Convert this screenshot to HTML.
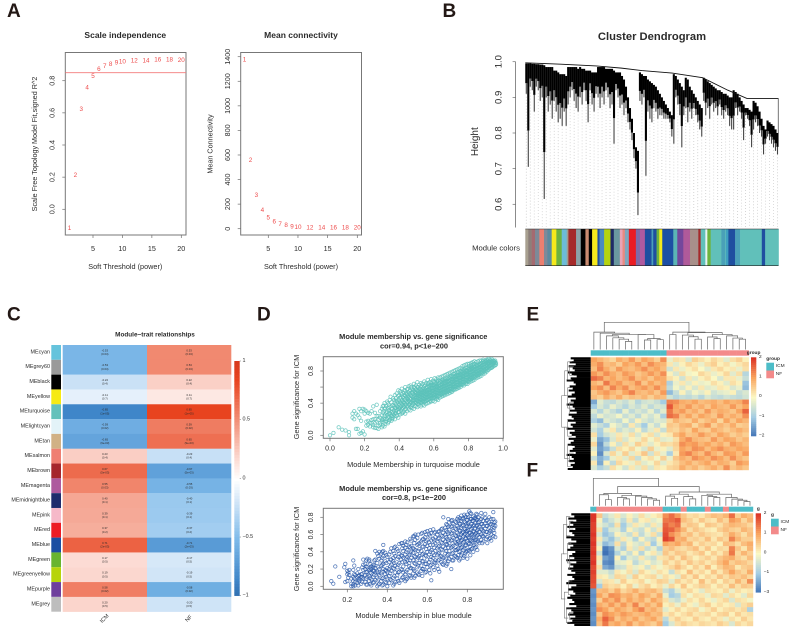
<!DOCTYPE html>
<html lang="en">
<head>
<meta charset="utf-8">
<title>WGCNA multi-panel figure</title>
<style>
html,body{margin:0;padding:0;background:#fff;width:790px;height:631px;overflow:hidden}
svg{display:block;font-family:"Liberation Sans",Arial,sans-serif;filter:blur(0.35px)}
text{fill:#2b2b2b}
.letter{font-size:19px;font-weight:bold;fill:#231815}
</style>
</head>
<body>
<svg id="fig" xmlns="http://www.w3.org/2000/svg" width="790" height="631" viewBox="0 0 790 631">
<rect width="790" height="631" fill="#fff"/>
<text class="letter" x="7" y="17">A</text>
<text class="letter" x="442.5" y="17">B</text>
<text class="letter" x="7" y="320.7">C</text>
<text class="letter" x="257" y="320.7">D</text>
<text class="letter" x="526.5" y="320.7">E</text>
<text class="letter" x="526.5" y="476.7">F</text>
<g id="panelA"></g>
<g id="panelB"></g>
<g id="panelC"></g>
<g id="panelD"></g>
<g id="panelE"></g>
<g id="panelF"></g>
</svg>

<script>
/* Shared drawing helpers */
window.figKit=(function(){
  var svgNs='http://www.w3.org/2000/svg';
  var axisGrey='#6e6e6e';
  function mk(tag,attrs,parent){
    var e=document.createElementNS(svgNs,tag);
    for(var k in attrs)e.setAttribute(k,attrs[k]);
    if(parent)parent.appendChild(e);
    return e;
  }
  function txt(parent,x,y,s,size,opt){
    opt=opt||{};
    var a={x:x,y:y,'font-size':size,'text-anchor':opt.anchor||'middle','dominant-baseline':'central'};
    if(opt.weight)a['font-weight']=opt.weight;
    if(opt.rot!==undefined)a.transform='rotate('+opt.rot+' '+x+' '+y+')';
    var t=mk('text',a,parent);
    if(opt.fill)t.style.fill=opt.fill;
    t.textContent=s;
    return t;
  }
  function linear(d0,d1,r0,r1){return function(v){return r0+(v-d0)*(r1-r0)/(d1-d0);};}
  function hexRgb(c){return [parseInt(c.slice(1,3),16),parseInt(c.slice(3,5),16),parseInt(c.slice(5,7),16)];}
  function ramp(stops){
    return function(v){
      if(v<=stops[0][0])return stops[0][1];
      for(var i=1;i<stops.length;i++){
        if(v<=stops[i][0]){
          var t=(v-stops[i-1][0])/(stops[i][0]-stops[i-1][0]);
          var a=hexRgb(stops[i-1][1]),b=hexRgb(stops[i][1]);
          return 'rgb('+a.map(function(c,j){return Math.round(c+(b[j]-c)*t);}).join(',')+')';
        }
      }
      return stops[stops.length-1][1];
    };
  }
  function plotFrame(g,x0,y0,x1,y1){
    var r=mk('rect',{x:x0,y:y0,width:x1-x0,height:y1-y0,fill:'none',stroke:'#777','stroke-width':1},g);
    
    
  }
  function xAxis(g,scale,ticks,yBase,labelY,size,dec){
    ticks.forEach(function(v){
      var px=scale(v);
      var l=mk('line',{x1:px,x2:px,y1:yBase,y2:yBase+3,stroke:axisGrey,'stroke-width':.7},g);
      
      
      var t=txt(g,px,labelY,dec?v.toFixed(1):String(v),size);
      
      
    });
  }
  function yAxis(g,scale,ticks,xBase,labelX,size,dec){
    ticks.forEach(function(v){
      var py=scale(v);
      var l=mk('line',{x1:xBase-3,x2:xBase,y1:py,y2:py,stroke:axisGrey,'stroke-width':.7},g);
      
      
      var t=txt(g,labelX,py,dec?v.toFixed(1):String(v),size,{rot:-90});
      
      
    });
  }
  var exprColor=ramp([[-2,'#3f72b5'],[-1,'#a5cde3'],[0,'#fbf8c4'],[1,'#f9a560'],[2,'#dc3527']]);
  var groupColor={ICM:'#4dbdc8',NF:'#f38a8a'};
  function drawColTree(g,node,xs,ys){
    if(typeof node==='number')return {x:xs(node+.5),h:0};
    var a=drawColTree(g,node[0],xs,ys),b=drawColTree(g,node[1],xs,ys);
    var h=node[2];
    var p=mk('polyline',{points:a.x+','+ys(a.h)+' '+a.x+','+ys(h)+' '+b.x+','+ys(h)+' '+b.x+','+ys(b.h),fill:'none',stroke:'#666','stroke-width':.7},g);
    
    
    return {x:(a.x+b.x)/2,h:h};
  }
  function expressionHeatmap(g,opt){
    var nr=opt.data.length,nc=opt.data[0].length;
    var xs=linear(0,nc,opt.x0,opt.x1),ys=linear(0,nr,opt.y0,opt.y1);
    opt.data.forEach(function(row,i){
      row.forEach(function(v,j){
        var r=mk('rect',{x:xs(j),y:ys(i),width:xs(j+1)-xs(j)+.2,height:ys(i+1)-ys(i)+.2,fill:exprColor(v)},g);
        
        
      });
    });
    opt.samples.forEach(function(s,j){
      var r=mk('rect',{x:xs(j),y:opt.annY0,width:xs(j+1)-xs(j)+.2,height:opt.annY1-opt.annY0,fill:groupColor[s]},g);
      
      
    });
    var treeG=mk('g',{},g);
    
    
    drawColTree(treeG,opt.tree,xs,linear(0,1,opt.treeBase,opt.treeTop));
    var depthY=linear(0,opt.depth.length,opt.y0,opt.y1);
    var fan=mk('g',{},g);
    
    
    opt.depth.forEach(function(d,i){
      mk('line',{x1:opt.x0-d,x2:opt.x0,y1:depthY(i+.5),y2:depthY(i+.5),stroke:'#000','stroke-width':2.1},fan);
    });
    var rowTree=linear(0,1,opt.y0,opt.y1);
    var brk=mk('g',{},g);
    
    
    opt.brackets.forEach(function(b){
      var px=opt.x0-b[2];
      mk('polyline',{points:(px+4)+','+rowTree(b[0])+' '+px+','+rowTree(b[0])+' '+px+','+rowTree(b[1])+' '+(px+4)+','+rowTree(b[1]),fill:'none',stroke:'#777','stroke-width':.6},brk);
    });
    var legY=linear(2,-2,opt.barY0,opt.barY1);
    for(var i=0;i<40;i++){
      var v=2-i/10;
      var r=mk('rect',{x:opt.barX,y:legY(v),width:5.3,height:(opt.barY1-opt.barY0)/40+.3,fill:exprColor(v)},g);
      
      
    }
    opt.ticks.forEach(function(v,i){
      var yy=linear(0,opt.ticks.length-1,opt.barY0,opt.barY1)(i);
      var s=txt(g,opt.barX+8,yy,(v<0?'\u2212':'')+Math.abs(v),4.8,{anchor:'start'});
      
      
    });
    var t=txt(g,opt.barX+2.6,opt.barY0-4,opt.groupName,4.8,{weight:'bold'});
    
    
    t=txt(g,opt.swX,opt.swY-3.2,opt.groupName,4.8,{weight:'bold',anchor:'start'});
    
    
    ['ICM','NF'].forEach(function(s,i){
      var y0=opt.swY+i*7.8;
      var sw=mk('rect',{x:opt.swX,y:y0,width:7.7,height:7.8,fill:groupColor[s]},g);
      
      
      var l=txt(g,opt.swX+9.5,y0+3.9,s,4.8,{anchor:'start'});
      
      
    });
  }
  return {mk:mk,txt:txt,linear:linear,ramp:ramp,plotFrame:plotFrame,xAxis:xAxis,yAxis:yAxis,expressionHeatmap:expressionHeatmap,axisGrey:axisGrey};
})();
</script>

<script>
/* Panel A data */
var softPowers=[1,2,3,4,5,6,7,8,9,10,12,14,16,18,20];
var scaleFitValues=[-0.12,0.21,0.62,0.756,0.825,0.87,0.889,0.9,0.911,0.915,0.924,0.924,0.93,0.93,0.927];
var meanConnValues=[1372,556,272,150,87,55,36,25,15,10,6,5,5,5,5];
var scaleFitCutoff=[0.85];
var softXTicks=[5,10,15,20];
var scaleYTicks=[0,0.2,0.4,0.6,0.8];
var connYTicks=[0,200,400,600,800,1000,1200,1400];
(function(){
  var K=window.figKit,txt=K.txt,mk=K.mk;
  var g=document.getElementById('panelA');
  function drawPowerLabels(xs,ys,values){
    softPowers.forEach(function(p,i){
      var t=txt(g,xs(p),ys(values[i]),String(p),6.3,{fill:'#ee4a4a'});
      
      
    });
  }
  var xL=K.linear(5,20,93,181.3),yL=K.linear(0,.8,209.3,80.7);
  K.plotFrame(g,65.3,52.5,186,235);
  scaleFitCutoff.forEach(function(v){
    var l=mk('line',{x1:65.3,x2:186,y1:yL(v),y2:yL(v),stroke:'#f47b7b','stroke-width':.8},g);
    
    
  });
  K.xAxis(g,xL,softXTicks,235,248.5,7.2,false);
  K.yAxis(g,yL,scaleYTicks,65.3,52,7.2,true);
  drawPowerLabels(xL,yL,scaleFitValues);
  var t=txt(g,125.3,35,'Scale independence',8.5,{weight:'bold'});
  
  
  t=txt(g,125.3,266.5,'Soft Threshold (power)',7.3);
  
  
  t=txt(g,34.3,144,'Scale Free Topology Model Fit,signed R^2',7.2,{rot:-90});
  
  

  var xR=K.linear(5,20,268.3,357.3),yR=K.linear(0,1400,228.7,56.7);
  K.plotFrame(g,240.7,52.5,361.5,235);
  K.xAxis(g,xR,softXTicks,235,248.5,7.2,false);
  K.yAxis(g,yR,connYTicks,240.7,227.5,7.2,false);
  drawPowerLabels(xR,yR,meanConnValues);
  t=txt(g,301,35,'Mean connectivity',8.5,{weight:'bold'});
  
  
  t=txt(g,301,266.5,'Soft Threshold (power)',7.3);
  
  
  t=txt(g,210,144,'Mean Connectivity',7.2,{rot:-90});
  
  
})();
</script>

<script>
/* Panel B data */
var dendroTop=[.995,.995,.995,.994,.994,.993,.993,.992,.992,.99,.985,.985,.985,.985,.975,.975,.97,.965,.965,.965,.96,.985,.985,.985,.985,.985,.98,.985,.98,.98,.975,.975,.975,.97,.97,.97,.985,.985,.985,.985,.98,.98,.98,.98,.975,.97,.97,.97,.96,.95,.93,.9,.87,.84,.8,.76,.75,.97,.965,.96,.96,.95,.945,.94,.935,.93,.92,.91,.9,.89,.88,.87,.86,.85,.965,.96,.95,.94,.93,.92,.955,.95,.93,.92,.91,.9,.89,.88,.87,.955,.95,.945,.94,.935,.93,.925,.92,.92,.915,.91,.91,.905,.9,.9,.92,.915,.91,.9,.89,.88,.87,.87,.865,.86,.89,.885,.875,.86,.84,.82,.81,.835,.83,.825,.82,.81,.8];
var dendroBottom=[.91,.705,.93,.92,.86,.93,.92,.89,.9,.615,.9,.86,.88,.84,.89,.86,.83,.84,.82,.86,.82,.88,.9,.92,.89,.87,.86,.9,.88,.92,.89,.83,.92,.88,.86,.91,.9,.87,.9,.88,.92,.9,.87,.88,.77,.92,.9,.87,.88,.85,.87,.83,.81,.78,.73,.7,.57,.89,.88,.9,.68,.86,.84,.83,.87,.86,.84,.85,.85,.84,.84,.84,.83,.79,.77,.9,.88,.85,.76,.85,.87,.83,.86,.84,.87,.85,.83,.81,.79,.89,.85,.87,.84,.88,.86,.87,.85,.88,.85,.84,.86,.85,.82,.81,.81,.87,.85,.86,.84,.78,.85,.84,.82,.76,.81,.83,.82,.8,.79,.74,.77,.79,.78,.77,.76,.75,.74];
var dendroEnvelope=[[0,.997],[.14,.993],[.28,.988],[.38,.982],[.46,.975],[.58,.968],[.70,.955],[.8,.92],[.875,.897],[1,.897]];
var dendroYTicks=[.6,.7,.8,.9,1];
var moduleBandColors=['#a8a090','#8c7f7a','#a56a70','#7d8a98','#ec7f70','#7e8a99','#5b8aa0','#f6e91c','#6db33f','#6cbcd8','#a0a090','#a52a2a','#8ba3a8','#000000','#c98a70','#000000','#f6e91c','#1f4fa0','#4a8ac0','#b5d30f','#1e2a66','#6a98a0','#e8a5b8','#ea8a80','#7fa8c0','#ea1c24','#7f6aa8','#b05aa0','#1f4fa0','#4aa0b8','#1f4fa0','#6db33f','#f6e91c','#1d4fa3','#5bb5b5','#74479c','#b05a9a','#a8908a','#a52a2a','#61c0ba','#e8f5f5','#6db33f','#61c0ba','#4aa0b8','#61c0ba','#3f9fc0','#1f4fa0','#4aa0b8','#61c0ba','#1f4fa0','#61c0ba'];
var moduleBandWidths=[9,10,10,13,14,10,13,14,16,15,5,23,14,14,10,10,16,6,14,19,10,18,8,7,12,21,12,15,20,5,10,8,9,33,12,18,20,25,7,14,6,10,32,11,2,8,20,15,65,10,40];
(function(){
  var K=window.figKit,txt=K.txt,mk=K.mk;
  var g=document.getElementById('panelB');
  var x0=525.3,x1=778.5;
  var y=K.linear(.6,1,204.3,61.7);
  var xLeaf=K.linear(0,dendroTop.length-1,x0+1,x1-1);
  var dots=mk('g',{},g);
  
  
  dendroBottom.forEach(function(b,i){
    if(i%2)return;
    mk('line',{x1:xLeaf(i),x2:xLeaf(i),y1:y(b),y2:227,stroke:'#c4c4c4','stroke-width':.8,'stroke-dasharray':'.8 2.2'},dots);
  });
  var leaves=mk('g',{},g);
  
  
  dendroTop.forEach(function(top,i){
    var b=dendroBottom[i];
    var solid=b+(top-b)*.35;
    mk('line',{x1:xLeaf(i),x2:xLeaf(i),y1:y(b),y2:y(solid),stroke:'#444','stroke-width':1.1},leaves);
    mk('line',{x1:xLeaf(i),x2:xLeaf(i),y1:y(solid),y2:y(top),stroke:'#000','stroke-width':2.1},leaves);
  });
  var xFrac=K.linear(0,1,x0,x1);
  var env=dendroEnvelope.map(function(p){return xFrac(p[0])+','+y(p[1]);}).join(' ');
  var pl=mk('polyline',{points:env,fill:'none',stroke:'#111','stroke-width':.9},g);
  
  
  var lastLeg=mk('line',{x1:x1-.2,x2:x1-.2,y1:y(.897),y2:y(.8),stroke:'#666','stroke-width':.9},g);
  
  
  var ax=mk('line',{x1:515.6,x2:515.6,y1:61.7,y2:227.5,stroke:K.axisGrey,'stroke-width':.8},g);
  
  
  K.yAxis(g,y,dendroYTicks,515.6,499,9.5,true);
  var t=txt(g,652,37,'Cluster Dendrogram',11.2,{weight:'bold'});
  
  
  t=txt(g,475.7,141.7,'Height',10,{rot:-90});
  
  
  t=txt(g,496,248,'Module colors',7.7);
  
  
  var total=moduleBandWidths.reduce(function(a,b){return a+b;},0);
  var band=K.linear(0,total,x0,x1);
  var acc=0;
  moduleBandWidths.forEach(function(w,i){
    var r=mk('rect',{x:band(acc),y:229,width:band(acc+w)-band(acc)+.3,height:36.7,fill:moduleBandColors[i]},g);
    
    
    acc+=w;
  });
  [229,265.7].forEach(function(yy){
    var l=mk('line',{x1:x0,x2:x1,y1:yy,y2:yy,stroke:'#222','stroke-width':.6},g);
    
    
  });
})();
</script>

<script>
/* Panel C data */
var traitNames=['ICM','NF'];
var moduleNames=['MEcyan','MEgrey60','MEblack','MEyellow','MEturquoise','MElightcyan','MEtan','MEsalmon','MEbrown','MEmagenta','MEmidnightblue','MEpink','MEred','MEblue','MEgreen','MEgreenyellow','MEpurple','MEgrey'];
var moduleSwatches=['#65c3dc','#9a9a9a','#000000','#f6ea14','#64c1bb','#e3f3f8','#d1b185','#ef7f72','#a5262c','#ae5a9e','#1f2c6d','#f6b9c9','#ed1c24','#1c4ea2','#69b42f','#b7d40b','#6e3f9c','#bdbdbd'];
var corrIcm=[-.53,-.53,-.22,-.11,-.85,-.59,-.65,.23,.67,.55,.40,.39,.37,.71,.17,.19,.58,.20];
var corrNf=[.53,.53,.22,.11,.85,.59,.65,-.23,-.67,-.55,-.40,-.39,-.37,-.71,-.17,-.19,-.58,-.20];
var corrPvals=['0.04','0.04','0.4','0.7','1e-05','0.02','9e-03','0.4','5e-03','0.03','0.1','0.1','0.2','2e-03','0.5','0.5','0.02','0.5'];
var corrLegendTicks=[1,.5,0,-.5,-1];
(function(){
  var K=window.figKit,txt=K.txt,mk=K.mk;
  var corrColor=K.ramp([[-1,'#2f6fb0'],[-.85,'#3f86c9'],[-.5,'#7fbbea'],[-.2,'#cfe4f7'],[0,'#ffffff'],[.2,'#fbd5cc'],[.5,'#f29078'],[.85,'#e8431f'],[1,'#d83a1c']]);
  var g=document.getElementById('panelC');
  var rowY=K.linear(0,moduleNames.length,345,611.7);
  var colX=K.linear(0,2,62.7,231.3);
  moduleNames.forEach(function(name,i){
    var y0=rowY(i),y1=rowY(i+1),mid=(y0+y1)/2;
    var sw=mk('rect',{x:51.3,y:y0,width:9.7,height:y1-y0,fill:moduleSwatches[i]},g);
    
    
    var lab=txt(g,50,mid,name,5.4,{anchor:'end'});
    
    
    [corrIcm[i],corrNf[i]].forEach(function(v,j){
      var c=mk('rect',{x:colX(j),y:y0,width:colX(j+1)-colX(j),height:y1-y0+.2,fill:corrColor(v)},g);
      
      
      var cx=(colX(j)+colX(j+1))/2;
      var a=txt(g,cx,mid-2,v.toFixed(2),2.8);
      
      
      var b=txt(g,cx,mid+1.6,'('+corrPvals[i]+')',2.8);
      
      
    });
  });
  traitNames.forEach(function(n,j){
    var tl=txt(g,(colX(j)+colX(j+1))/2,619,n,5.5,{rot:-45});
    
    
  });
  var t=txt(g,155,335,'Module\u2212trait relationships',6.4,{weight:'bold'});
  
  
  var leg=K.linear(1,-1,361,595.7);
  for(var i=0;i<80;i++){
    var v=1-i/40;
    var r=mk('rect',{x:234.3,y:leg(v),width:5.4,height:3.2,fill:corrColor(v)},g);
    
    
  }
  corrLegendTicks.forEach(function(tv){
    var l=mk('line',{x1:239.7,x2:241,y1:leg(tv),y2:leg(tv),stroke:K.axisGrey,'stroke-width':.5},g);
    
    
    var s=txt(g,242.5,leg(tv),(tv<0?'\u2212':'')+Math.abs(tv),5.4,{anchor:'start'});
    
    
  });
})();
</script>

<script>
/* Panel D data: each row is a module-membership value followed by its gene-significance values */
var turquoisePoints=[[0,0],[.02,.03],[.05,.1],[.07,.07],[.09,.06],[.11,0,.04],[.13,.27,.22],[.14,.3,.2],[.15,.08,.27],[.16,.08,.25],[.17,.02,.22,.33],[.18,.03,.3,.18],[.19,.33,.05],[.2,.32,.01,.27],[.21,.3,.12,.17],[.22,.28,.18,.13],[.23,.27,.11,.16],[.24,.15,.3,.19],[.25,.1,.2,.13,.36],[.26,.15,.2,.09,.28],[.27,.38,.09,.17,.24],[.28,.08,.12,.24,.19],[.29,.15,.22,.3,.13],[.3,.1,.17,.25,.33,.2],[.31,.16,.21,.3,.37],[.32,.14,.2,.26,.34],[.33,.2,.25,.29,.42],[.34,.17,.23,.31,.38,.27],[.35,.26,.3,.21,.48],[.36,.24,.29,.33,.37,.2],[.37,.25,.31,.36,.44],[.38,.3,.34,.39,.27,.46],[.39,.32,.36,.41,.25],[.4,.29,.33,.38,.43,.5],[.41,.31,.36,.4,.46,.53],[.42,.34,.38,.42,.48,.28],[.43,.35,.4,.44,.5,.56],[.44,.33,.38,.43,.47,.52],[.45,.36,.41,.45,.5,.58],[.46,.38,.42,.46,.51,.55],[.47,.36,.41,.45,.49,.53,.6],[.48,.4,.44,.47,.52,.56],[.49,.37,.42,.46,.5,.54,.59],[.5,.41,.44,.47,.5,.53,.57],[.51,.39,.43,.46,.49,.52,.55,.6],[.52,.42,.45,.48,.51,.54,.58],[.53,.41,.44,.47,.5,.53,.56,.62],[.54,.43,.46,.49,.52,.55,.59],[.55,.42,.45,.48,.51,.54,.57,.63],[.56,.44,.47,.5,.53,.56,.6],[.57,.45,.48,.51,.54,.57,.61,.65],[.58,.43,.47,.5,.53,.56,.59,.63],[.59,.46,.49,.52,.55,.58,.62],[.6,.47,.5,.53,.56,.59,.62,.66],[.61,.48,.51,.54,.57,.6,.64],[.62,.46,.5,.53,.56,.59,.62,.67],[.63,.49,.52,.55,.58,.61,.65],[.64,.5,.53,.56,.59,.62,.66],[.65,.51,.54,.57,.6,.63,.66,.69],[.66,.52,.55,.58,.61,.64,.68],[.67,.53,.56,.59,.62,.65,.68],[.68,.54,.57,.6,.63,.66,.7],[.69,.55,.58,.61,.64,.67,.71],[.7,.55,.58,.61,.64,.67,.7,.73],[.71,.57,.6,.63,.66,.69,.73],[.72,.58,.61,.64,.67,.7,.74],[.73,.6,.63,.66,.69,.72,.75],[.74,.6,.63,.66,.69,.72,.75,.78],[.75,.62,.65,.68,.71,.74,.77],[.76,.63,.66,.69,.72,.75,.79],[.77,.64,.67,.7,.73,.76,.8],[.78,.66,.69,.72,.75,.78,.82],[.79,.66,.69,.72,.75,.78,.81],[.8,.67,.7,.73,.76,.79,.83],[.81,.69,.72,.75,.78,.81,.84],[.82,.7,.73,.76,.79,.82,.85],[.83,.71,.74,.77,.8,.83,.86],[.84,.73,.76,.79,.82,.85],[.85,.74,.77,.8,.83,.86,.88],[.86,.75,.78,.81,.84,.87],[.87,.76,.79,.82,.85,.88],[.88,.78,.81,.84,.87,.9],[.89,.79,.82,.85,.88,.91],[.9,.8,.83,.86,.89,.92],[.91,.81,.84,.87,.9,.93],[.92,.83,.86,.89,.92],[.93,.84,.87,.9,.93],[.94,.85,.88,.91,.93],[.95,.87,.9,.92],[.96,.88,.9]];
var turquoiseExtraPoints=[[.305,.12,.19,.28,.36],[.315,.11,.24,.33,.4],[.325,.17,.28,.36],[.335,.15,.22,.34,.4],[.345,.19,.28,.35,.44],[.355,.18,.24,.33,.41],[.365,.22,.27,.38,.46],[.375,.2,.28,.34,.41,.5],[.385,.24,.31,.37,.43,.52],[.395,.22,.29,.35,.44,.49,.56],[.405,.26,.34,.41,.47,.55],[.415,.27,.33,.39,.44,.51,.58],[.425,.29,.36,.41,.46,.53],[.435,.27,.32,.38,.45,.49,.55,.6],[.445,.3,.36,.41,.46,.51,.57],[.455,.32,.38,.43,.48,.53,.61],[.465,.31,.35,.4,.45,.5,.56,.62],[.475,.34,.38,.43,.48,.54,.58],[.485,.33,.39,.44,.49,.55,.6,.64],[.495,.36,.4,.44,.48,.52,.57,.62],[.505,.35,.39,.43,.47,.51,.55,.6,.66],[.515,.37,.41,.45,.49,.53,.58,.63],[.525,.36,.4,.44,.48,.52,.56,.6,.65],[.535,.38,.42,.46,.5,.54,.58,.64],[.545,.37,.41,.45,.49,.53,.57,.61,.67],[.555,.39,.43,.47,.51,.55,.59,.65],[.565,.4,.44,.48,.52,.56,.6,.64,.69],[.575,.41,.45,.49,.53,.57,.61,.66],[.585,.42,.46,.5,.54,.58,.62,.65,.7],[.595,.43,.47,.51,.55,.59,.63,.68],[.605,.42,.46,.5,.54,.58,.62,.66,.71],[.615,.45,.49,.53,.57,.61,.65,.7],[.625,.44,.48,.52,.56,.6,.64,.68,.72],[.635,.47,.51,.55,.59,.63,.67,.72],[.645,.48,.52,.56,.6,.64,.68,.73],[.655,.49,.53,.57,.61,.65,.69,.74],[.665,.5,.54,.58,.62,.66,.7,.75],[.675,.51,.55,.59,.63,.67,.71,.76],[.685,.52,.56,.6,.64,.68,.72,.77],[.695,.53,.57,.61,.65,.69,.73,.78],[.705,.54,.58,.62,.66,.7,.74,.79],[.715,.56,.6,.64,.68,.72,.76,.8],[.725,.57,.61,.65,.69,.73,.77,.81],[.735,.58,.62,.66,.7,.74,.78,.82],[.745,.59,.63,.67,.71,.75,.79,.83],[.755,.6,.64,.68,.72,.76,.8,.84],[.765,.62,.66,.7,.74,.78,.82,.86],[.775,.62,.66,.7,.74,.78,.82,.87],[.785,.64,.68,.72,.76,.8,.84,.88],[.795,.64,.68,.72,.76,.8,.84,.89],[.805,.66,.7,.74,.78,.82,.86,.89],[.815,.67,.71,.75,.79,.83,.87,.9],[.825,.68,.72,.76,.8,.84,.88,.91],[.835,.69,.73,.77,.81,.85,.89,.92],[.845,.71,.75,.79,.83,.87,.91],[.855,.72,.76,.8,.84,.88,.92],[.865,.73,.77,.81,.85,.89,.93],[.875,.74,.78,.82,.86,.9,.93],[.885,.76,.8,.84,.88,.92,.94],[.895,.77,.81,.85,.89,.93],[.905,.79,.83,.87,.91,.94],[.915,.81,.85,.89,.92,.95],[.925,.83,.87,.91,.94],[.935,.84,.88,.92,.95],[.945,.86,.9,.93],[.955,.87,.91,.93]];
var bluePoints=[[.12,.06],[.13,.03],[.14,.23],[.16,.11],[.19,.05,.26],[.2,.06,.14,.18],[.21,.13,.19],[.22,0,.03,.09],[.23,0,.02,.06,.11,.19,.3],[.24,.01,.05,.13],[.25,.04,.1,.15],[.26,.06,.13,.08],[.27,.14,.11,.03],[.28,.09,.19,.25,.31],[.29,.05,.13,.2,.26],[.3,.02,.11,.17,.22,.32],[.31,.06,.12,.19,.29,.31],[.32,.01,.08,.15,.2,.23],[.33,.04,.11,.18,.22,.25],[.34,.07,.16,.21,.31,.41],[.35,0,.1,.17,.27,.38],[.36,.03,.13,.2,.32,.4],[.37,.06,.15,.24,.3,.38],[.38,.02,.1,.2,.26,.35,.41,.48],[.39,.05,.14,.19,.29,.39],[.4,0,.09,.16,.21,.34],[.41,.04,.12,.2,.28,.37],[.42,.07,.18,.25,.31,.44],[.43,.01,.1,.21,.29,.33,.41],[.44,.05,.16,.24,.35,.46],[.45,.09,.13,.22,.32,.43],[.46,.04,.17,.27,.38,.49],[.47,.07,.2,.31,.36,.5],[.48,.11,.16,.23,.33,.41,.47],[.49,.06,.14,.28,.37,.45,.52],[.5,.09,.19,.3,.34,.42,.51],[.51,.13,.23,.27,.36,.46],[.52,.1,.21,.33,.4,.47,.53],[.53,.15,.2,.3,.39,.44,.58],[.54,.12,.26,.34,.42,.54,.6],[.55,.16,.22,.31,.37,.48,.56],[.56,.13,.27,.35,.43,.5],[.57,.18,.24,.33,.41,.52,.61],[.58,.2,.29,.38,.46,.55],[.59,.16,.26,.36,.49,.57,.63],[.6,.22,.31,.4,.47,.54,.64],[.61,.19,.28,.37,.44,.51,.6],[.62,.07,.25,.34,.42,.53,.62],[.63,.22,.33,.39,.48,.55,.66],[.64,.27,.3,.41,.5,.57,.63],[.65,.24,.36,.44,.52,.6],[.66,.17,.31,.39,.47,.56,.64],[.67,.28,.35,.43,.51,.59,.66],[.68,.25,.33,.46,.54,.62,.8],[.69,.3,.38,.44,.52,.6,.68],[.7,.26,.36,.48,.55,.63,.71],[.71,.32,.41,.5,.58,.66,.74],[.72,.2,.34,.45,.53,.61,.69,.76],[.73,.3,.39,.47,.56,.64,.72],[.74,.35,.42,.51,.59,.67,.75],[.75,.33,.43,.49,.55,.62,.7,.78],[.76,.3,.4,.5,.57,.65,.73],[.77,.36,.45,.53,.6,.68,.76,.82],[.78,.33,.42,.51,.58,.63,.71,.79],[.79,.38,.47,.55,.61,.66,.74,.81],[.8,.32,.41,.52,.59,.64,.7,.77,.83],[.81,.41,.49,.56,.62,.69,.75,.87],[.82,.43,.53,.6,.66,.72,.78,.84],[.83,.4,.5,.58,.64,.7,.76,.81],[.84,.45,.54,.61,.67,.73,.79],[.85,.42,.52,.59,.65,.71,.77,.83],[.86,.5,.57,.63,.69,.75],[.87,.54,.6,.66,.72,.78,.85],[.88,.52,.58,.64,.7,.76],[.89,.6,.67,.73,.79,.84],[.9,.5,.57,.63,.7,.77],[.91,.55,.62,.68,.74,.8],[.92,.53,.6,.66,.72,.78],[.93,.58,.65,.71,.78,.86],[.94,.57,.7,.75]];
var blueExtraPoints=[[.185,.22],[.205,.16,.1],[.235,.09,.14,.24],[.255,.01,.08,.12,.2],[.275,.05,.1,.14,.22],[.295,.02,.09,.16,.23,.3],[.315,.03,.1,.16,.21,.26],[.335,.05,.13,.18,.24,.3],[.355,.02,.08,.15,.22,.35],[.375,.01,.09,.17,.25,.33,.4],[.395,.04,.11,.18,.27,.36],[.415,.08,.15,.23,.31,.4],[.435,.03,.12,.2,.27,.38,.45],[.455,.06,.16,.25,.34,.41],[.475,.1,.19,.28,.35,.44,.5],[.495,.08,.17,.26,.32,.4,.48],[.515,.12,.21,.3,.38,.45,.55],[.535,.1,.18,.27,.35,.43,.5,.58],[.555,.14,.24,.33,.41,.49,.6],[.575,.12,.2,.29,.37,.46,.54,.62],[.595,.17,.26,.35,.43,.52,.6],[.615,.15,.24,.31,.4,.48,.58,.65],[.635,.19,.28,.36,.45,.53,.62],[.655,.2,.3,.38,.46,.55,.63],[.675,.26,.34,.42,.5,.58,.67],[.695,.24,.32,.41,.49,.57,.65,.72],[.705,.29,.37,.45,.53,.61,.69,.78],[.725,.3,.38,.46,.54,.62,.7,.77],[.745,.34,.42,.5,.58,.66,.74],[.755,.36,.44,.52,.6,.68,.76,.8],[.765,.32,.41,.48,.56,.64,.72,.79],[.775,.38,.46,.54,.62,.7,.78],[.785,.35,.44,.52,.6,.67,.75,.83],[.795,.4,.48,.56,.64,.72,.8],[.805,.42,.5,.57,.65,.73,.8],[.815,.36,.46,.54,.62,.7,.78,.85],[.825,.44,.52,.6,.68,.76],[.835,.48,.56,.63,.71,.79],[.845,.46,.54,.62,.7,.78,.84],[.855,.52,.6,.67,.74,.8],[.875,.5,.58,.65,.72,.8],[.895,.55,.63,.7,.76],[.915,.56,.64,.72],[.935,.62,.68,.74]];
var turquoiseXTicks=[0,.2,.4,.6,.8,1];
var turquoiseYTicks=[0,.4,.8];
var turquoiseYMinor=[.2,.6];
var blueXTicks=[.2,.4,.6,.8];
var blueYTicks=[0,.2,.4,.6,.8];
(function(){
  var K=window.figKit,txt=K.txt,mk=K.mk;
  var g=document.getElementById('panelD');
  function scatter(parent,rows,xs,ys,color,op,nameP){
    rows.forEach(function(row){
      for(var k=1;k<row.length;k++){
        var c=mk('circle',{cx:xs(row[0]),cy:ys(row[k]),r:1.7,fill:'none',stroke:color,'stroke-width':.75,'stroke-opacity':op},parent);
        
        
      }
    });
  }
  var x1=K.linear(0,1,330,503),y1=K.linear(0,.8,435.3,371);
  K.plotFrame(g,323.3,356.7,503.3,438.3);
  var g1=mk('g',{},g);
  
  
  scatter(g1,turquoisePoints,x1,y1,'#5cc2ba',.85,'turquoise');
  scatter(g1,turquoiseExtraPoints,x1,y1,'#5cc2ba',.85,'turquoise');
  K.xAxis(g,x1,turquoiseXTicks,438.3,449,7,true);
  K.yAxis(g,y1,turquoiseYTicks,323.3,311.7,7,true);
  turquoiseYMinor.forEach(function(v){
    var l=mk('line',{x1:320.3,x2:323.3,y1:y1(v),y2:y1(v),stroke:K.axisGrey,'stroke-width':.7},g);
    
    
  });
  var t=txt(g,413.3,336.7,'Module membership vs. gene significance',7.4,{weight:'bold'});
  
  
  t=txt(g,414,346,'cor=0.94, p<1e\u2212200',7.4,{weight:'bold'});
  
  
  t=txt(g,413.5,464.5,'Module Membership in turquoise module',7.35);
  
  
  t=txt(g,296.7,397,'Gene significance for ICM',7.35,{rot:-90});
  
  

  var x2=K.linear(.2,.8,347.3,467.3),y2=K.linear(0,.8,586.3,517.3);
  K.plotFrame(g,323.3,508.3,503.3,589.3);
  var g2=mk('g',{},g);
  
  
  scatter(g2,bluePoints,x2,y2,'#2556a8',.8,'blue');
  scatter(g2,blueExtraPoints,x2,y2,'#2556a8',.8,'blue');
  K.xAxis(g,x2,blueXTicks,589.3,600.7,7,true);
  K.yAxis(g,y2,blueYTicks,323.3,311.7,7,true);
  t=txt(g,413.3,488.3,'Module membership vs. gene significance',7.4,{weight:'bold'});
  
  
  t=txt(g,414,497.3,'cor=0.8, p<1e\u2212200',7.4,{weight:'bold'});
  
  
  t=txt(g,413.5,615.7,'Module Membership in blue module',7.35);
  
  
  t=txt(g,296.7,549,'Gene significance for ICM',7.35,{rot:-90});
  
  
})();
</script>

<script>
/* Panel E data: rows = genes, columns = samples */
var heatE=[
[1,.8,.6,.4,.9,.7,1.1,.6,1,.8,.5,1.2,-.2,.3,.2,-.4,.5,.3,.1,.4,.2,-.3,.3,.5,.1],
[.9,1.2,.7,.8,.5,1,.8,1.1,.7,1.2,.9,.8,.2,-.3,.1,.4,.2,-.2,.3,.5,.1,.3,-.1,.2,.4],
[.7,1.3,.9,.6,1.1,.8,.7,.9,1.2,.8,1,.7,-.5,.2,-.2,.1,.3,0,-.3,.2,.4,.1,.2,-.2,.3],
[1.1,.8,1.2,.9,.7,1.1,.9,.6,.8,1.1,.8,1.2,.1,-.4,.3,-.1,0,.4,.2,-.2,.1,.4,-.3,.3,-.8],
[1.5,1.3,.8,1,.7,.9,1.2,.7,.9,.6,1,.9,.3,.1,-.5,.2,-.3,.1,.3,0,-.4,.2,.2,-.2,-.6],
[.8,.6,1.4,.9,1.1,.7,.8,1.2,.6,1,.7,.9,-.9,-.2,.2,-.3,.1,-.2,-.1,.3,.1,-.3,.3,.1,-1.1],
[1,1.2,.7,1.3,.9,1.2,.7,.9,1.1,.8,1.2,.8,-.7,-.1,-.4,.1,-.4,.2,-.3,-.2,.2,.1,-.4,-.2,-1.2],
[.6,.9,1.1,.8,.6,1,1.3,.8,.7,.9,.6,1.1,-1.2,-.6,.1,-.5,-.1,-.3,.1,-.5,-.3,-.2,.1,-.6,-.4],
[.7,.5,.9,.6,.9,.5,.7,.6,.8,.5,.8,.7,-.5,-.8,-.6,-.7,-.5,-.8,-.4,-.6,-.7,-.5,-.6,-.7,-.5],
[-1.4,-.3,-.6,-.7,-.4,-.6,-.3,-.8,-.5,-.4,-.6,-1,1.3,1.2,.9,.8,1,.7,.8,.9,.7,1,.8,.9,1.3],
[-1,-.4,-.7,-.2,-.5,-.8,-.4,-.6,-.3,-.7,-.4,-.5,1.7,1,.8,1.1,.7,.9,.6,1,.8,.7,1.1,.7,1],
[-.4,-.8,-.3,-.6,-.9,-.2,-.7,-.4,-.6,-.2,-.8,-.3,1.4,.9,1.1,.7,.9,.6,1.1,.7,.9,.8,.6,1,1.6],
[-.7,-.2,-.5,-.4,-.1,-.6,-.3,-.7,-.2,-.5,-.2,-.9,1.5,1.3,.7,1,.6,1,.8,.6,1.1,.7,.9,.7,1.2],
[-.9,-1.2,-.3,-.5,-.7,-.1,-.6,.1,-.4,-.6,-.3,-.4,.4,.8,.6,.5,.9,.5,.7,.9,.4,1,.6,1,.8],
[-.3,-.6,-.9,-.1,-.4,-.7,.2,-.5,-1,-.2,-.6,-.1,.6,.5,.8,.9,.4,.8,1.1,.5,.8,.6,.9,.5,.6],
[-.5,-.9,-.2,.2,-.6,-.3,-.5,.1,-.7,-.3,.2,-.6,.5,.4,.7,.5,1,.6,.5,.9,.7,.5,.7,.9,.7],
[.3,-1,-.5,-.3,.2,-.2,.3,-.4,.1,.3,-.4,.1,.2,.7,1,.6,.7,1.1,.8,.6,1,.8,.5,.7,.5],
[-.2,-1.4,-1.1,-.4,.3,-.4,.1,-.2,.4,-.1,.3,-.3,-.2,.3,.9,1.2,.8,.7,.6,1.1,.7,1,.9,.6,.8],
[.4,-1.6,-.7,.1,-.5,.3,-.2,.5,.2,-.3,.1,.4,.3,.5,1.2,1,1.1,.8,1,.7,.9,.6,1.1,.9,.7],
[-.3,-1.5,-1.2,-.6,.3,.1,.4,-.1,-.4,.5,-.2,.1,-.3,.4,1,.8,1.2,1.1,.7,1,1.2,.9,.8,1,.9],
[.1,-1.7,-.4,.4,-.2,.5,-.3,.2,.6,-.5,.3,-.2,-.9,.2,1.1,1.3,.9,.7,1.2,.8,.6,1.1,1,.7,1.1],
[-.6,-1.3,-1,-.2,.2,-.3,.4,-.6,.1,.3,-.1,.5,-.2,.6,.9,.7,1.2,1,.8,1.2,1,.7,1.2,.8,.6],
[.2,-1.4,.1,-.7,.4,.1,-.2,.3,-.3,-.1,.4,-.3,.2,.4,.7,.9,.6,.8,1,.6,.9,.8,.5,1.1,.9],
[-.4,-.9,-.6,.3,-.1,-.5,.2,-.3,.3,-.4,.2,.1,.4,.5,.9,.6,.8,.5,.7,.9,.6,1.2,.6,.8,.6]
];
var heatESamples=['ICM','ICM','ICM','ICM','ICM','ICM','ICM','ICM','ICM','ICM','ICM','ICM','NF','NF','NF','NF','NF','NF','NF','NF','NF','NF','NF','NF','NF'];
var colTreeE=[[0,[1,[[2,[3,[4,[5,6,.3],.38],.43],.5],[7,[[8,9,.35],[10,11,.36],.4],.55],.55],.6],.64],[[12,13,.55],[[14,[15,[16,17,.38],.47],.53],[[18,[19,20,.4],.46],[21,[22,[23,24,.38],.42],.5],.55],.62],.64],1];
var rowDepthE=[20,17,21,15,22,18,16,23,19,14,20,24,17,15,21,18,22,16,19,23,15,20,17,24,18,16,21,14,22,19,17,23,15,20,18,24,16,21,19,15,22,17,20,23,16,18,21,15,24,19,17,22,16,20,18,23];
var rowBracketsE=[[.34,.62,29],[.12,.34,26],[.62,.9,26],[.04,.2,23],[.27,.45,23],[.55,.7,23],[.78,.97,23],[.08,.16,21],[.4,.5,21],[.85,.93,21]];
var expressionLegendE=[2,1,0,-1,-2];
window.figKit.expressionHeatmap(document.getElementById('panelE'),{data:heatE,samples:heatESamples,tree:colTreeE,depth:rowDepthE,brackets:rowBracketsE,x0:590.7,x1:748.7,y0:357.3,y1:470,annY0:350.3,annY1:355.7,treeBase:349.5,treeTop:322.3,barX:751,barY0:357.3,barY1:436,ticks:expressionLegendE,groupName:'group',swX:766.3,swY:362.7});
</script>

<script>
/* Panel F data: rows = genes, columns = samples */
var heatF=[
[2,.6,-.6,-.3,.2,-.4,.1,-.3,.3,-.2,.1,.3,1.2,1.5,1.1,.6,.3,.4,.2,.5,.7,.6,.8,1.5,.5,.9,.7],
[2,.1,-.9,-.5,-.2,-.7,.2,-.6,.1,.2,-.3,-.1,1.4,1.5,1.7,.7,.5,.2,.6,.3,.2,.7,.4,1.1,.9,.4,.8],
[1.9,-.2,-.5,-.8,.3,-1,-.4,.2,-.2,-.5,.2,-.3,1.6,1.3,1.5,.4,.6,.5,.1,.6,.5,.3,.6,.8,.7,.6,.4],
[1.9,.3,-1,-.4,-.3,-.9,.1,-.4,-.6,.1,-.5,.2,1.7,1.6,1.2,.8,.3,.6,.4,.2,.1,.5,.7,.5,.4,.8,.6],
[2,-.4,-1.1,-.8,.1,-.3,-.6,.2,-.7,-.2,.3,-.6,1.8,1.2,.9,.5,.7,.3,.6,.4,.3,.2,.5,.9,.6,.3,.7],
[1.9,.2,-.7,-1.1,-.5,.2,-.2,-.8,.1,-.5,-.7,.1,1.9,1.7,.8,.9,.4,.5,.3,.7,.2,.6,.4,1.3,.8,.5,.5],
[2,-.3,-1.2,-.9,.3,-.7,.1,-.3,-.5,.2,-1,-.2,1,.8,1,.6,.8,.2,.5,.3,.4,.1,.7,.6,.3,.7,.9],
[1.9,.1,-1.9,-1.6,-.4,-.9,.2,-.4,.3,-.6,-.2,-.8,.5,.7,.4,.3,.5,.7,.2,.6,.1,.4,.3,1.3,.6,.2,.8],
[2,-.5,-2,-1.7,-.8,-.2,-.6,.1,-.8,-.1,.2,-.4,.6,.3,.6,.5,.2,.4,.6,.1,.5,.2,.6,1.4,.4,.8,.5],
[1.9,.2,-1.5,-1.7,.1,-1,-.3,-.5,.2,-.4,-.6,.2,.3,.6,.2,.7,.4,.1,.3,.5,.2,.6,.8,.9,.5,.3,.7],
[2,-.2,-1.7,-1.8,-.3,-.2,.1,-.7,-.3,.1,-.4,-.2,.5,.2,.5,.2,.6,.3,.5,.2,.4,.7,1,.5,.7,.6,.4],
[1.8,.3,-1.4,-1.6,-.6,-.5,.2,-.2,.1,-.5,.2,-.1,.2,.4,.7,.4,.1,.5,.2,.7,.1,.5,.8,.7,.2,.5,.6],
[1.9,-.3,-.3,-.6,.2,-.1,.3,-.4,.4,.1,-.2,.3,.1,-.6,.3,.1,.7,.2,.4,.1,.6,.2,.6,1,.6,.4,.9],
[1.8,.2,.1,-.4,.4,.3,-.3,.5,.1,.3,.4,-.2,.3,.1,-.3,.5,.2,.6,.1,.4,.2,.6,.3,.6,.5,.7,.4],
[1.8,-.4,.3,.2,-.2,.5,.1,.2,.4,-.1,.2,.5,.4,-.3,.5,.2,.4,.1,.7,.2,.5,.1,.5,.3,.8,.4,1.2],
[1.7,-1,.5,.3,.4,.1,.5,-.2,.3,.5,.1,.3,-.2,.4,.1,.6,.1,.3,.5,.4,.1,.4,.2,.7,.3,.6,.5],
[-1.6,.7,.8,.5,.9,.4,.6,.9,.5,.7,.8,.5,-.6,-.9,-.3,.2,.4,.1,-.3,.3,.2,.1,.4,-.2,.3,.1,.2],
[-1.7,1,.6,1.2,1.1,.8,.9,.6,1,.8,.5,.9,-.2,-1,-.8,.3,-.1,.3,.2,-.2,.4,.3,-.3,.3,.1,-.3,.4],
[-1.6,.5,1.1,.8,1.2,.6,1,.7,.9,.5,1,.7,.3,-.4,-.6,-.2,.3,.1,.4,.1,-.2,.2,.4,-.4,.3,.2,-.1],
[-1.7,.9,.7,1.1,.7,1.1,.7,1.3,.6,.9,.6,1,.1,.3,-.2,.4,.1,-.2,.3,.5,.1,.3,.1,.2,-.4,.3,.5],
[-1.6,1.2,1,.6,1,.8,.6,1,1.3,.7,.9,.6,-.3,.1,.4,.1,.3,.4,-.1,.2,.5,.1,.3,.4,.2,.4,-.9],
[-1.7,.6,1.2,1,.8,1.1,.9,.7,.8,1,.7,.8,.2,.4,.1,.3,.5,.2,.3,.4,.1,.4,.5,.1,.5,.2,.3],
[-1.6,.9,1.6,1.2,.6,.9,.7,1,.6,.8,1,.6,-.7,.2,.5,.2,.1,.5,.2,.1,.4,.2,-.2,.3,.1,.5,.2],
[-1.7,.7,1.4,.8,1,.7,1.1,.6,.9,.7,.5,.9,-1,-.4,.3,.5,.3,.2,.4,.3,.2,.5,.3,-.4,.4,.2,.4]
];
var heatFSamples=['ICM','NF','NF','NF','NF','NF','NF','NF','NF','NF','NF','NF','ICM','ICM','ICM','NF','ICM','ICM','ICM','NF','ICM','ICM','NF','ICM','ICM','ICM','ICM'];
var colTreeF=[0,[[[1,[2,3,.22],.4],[[4,[5,6,.25],.3],[7,[8,[9,[10,11,.2],.25],.3],.35],.38],.45],[[[12,[13,14,.27],.35],[15,[16,17,.25],.33],.42],[[18,[19,[20,21,.3],.33],.38],[22,[23,[24,[25,26,.15],.2],.24],.3],.42],.5],.7],1];
var rowDepthF=[19,16,22,14,20,17,23,15,21,18,16,24,19,14,22,17,20,23,15,18,21,16,24,14,20,17,22,19,15,23,18,16,21,24,14,19,22,17,15,20,23,18,16,21,14,24,19,17,22,15,20,18,23,16];
var rowBracketsF=[[.36,.76,29],[.1,.36,27],[.7,.93,26],[.03,.2,24],[.27,.44,23],[.6,.72,22],[.84,.97,24],[.07,.14,21],[.38,.5,21],[.88,.94,21]];
var expressionLegendF=[2,1,0,-1,-3];
window.figKit.expressionHeatmap(document.getElementById('panelF'),{data:heatF,samples:heatFSamples,tree:colTreeF,depth:rowDepthF,brackets:rowBracketsF,x0:590.3,x1:753,y0:513.3,y1:626,annY0:506.7,annY1:511.7,treeBase:505.7,treeTop:478.3,barX:755.7,barY0:513.3,barY1:592.3,ticks:expressionLegendF,groupName:'g',swX:771,swY:518.7});
</script>
</body>
</html>
